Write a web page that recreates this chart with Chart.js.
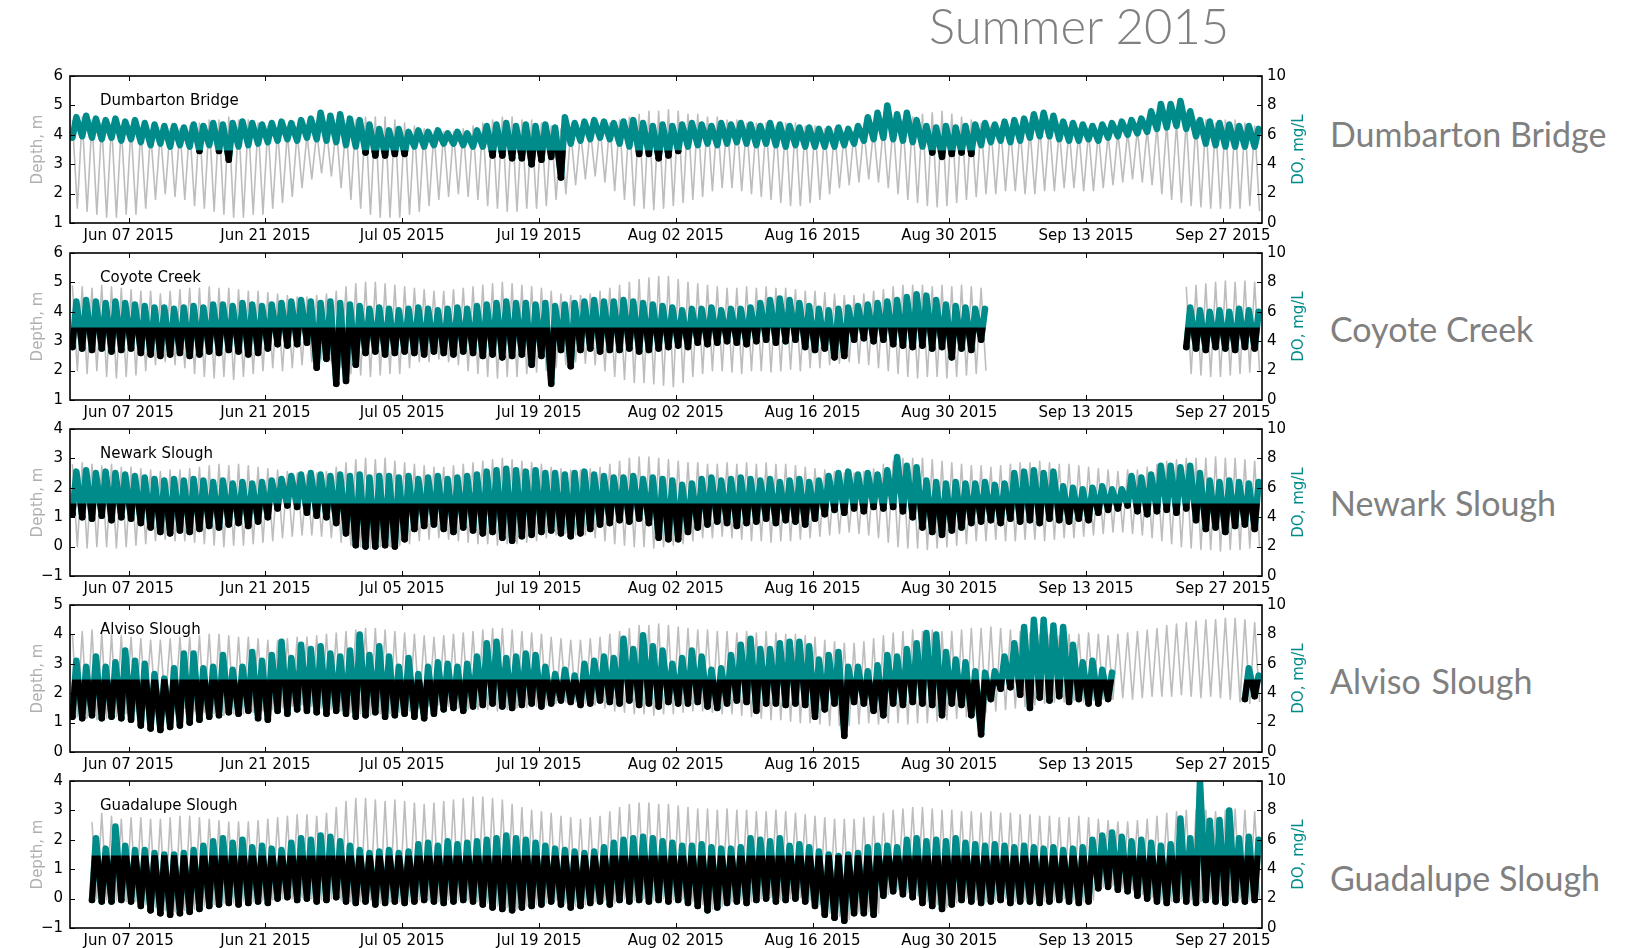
<!DOCTYPE html>
<html>
<head>
<meta charset="utf-8">
<script src="https://cdn.jsdelivr.net/npm/chart.js@4"></script>
<style>
  body { margin: 0; background: #fff; width: 1626px; height: 948px; overflow: hidden; position: relative; }
  canvas { position: absolute; left: 0; }
  .big { position: absolute; font-family: Lato, "Open Sans", sans-serif; color: #808080; white-space: nowrap; line-height: 1; }
</style>
</head>
<body>
<div class="big" style="left:929px; top:1px; font-size:49px; font-weight:300;">Summer 2015</div>
<div class="big" style="left:1330px; top:117px; font-size:34px;">Dumbarton Bridge</div>
<div class="big" style="left:1330px; top:312px; font-size:34px;">Coyote Creek</div>
<div class="big" style="left:1330px; top:486px; font-size:34px;">Newark Slough</div>
<div class="big" style="left:1330px; top:664px; font-size:34px; word-spacing:2px;">Alviso Slough</div>
<div class="big" style="left:1330px; top:861px; font-size:34px;">Guadalupe Slough</div>

<canvas id="p0" width="1330" height="190" style="top:66px"></canvas>
<canvas id="p1" width="1330" height="190" style="top:243px"></canvas>
<canvas id="p2" width="1330" height="190" style="top:419px"></canvas>
<canvas id="p3" width="1330" height="190" style="top:595px"></canvas>
<canvas id="p4" width="1330" height="190" style="top:771px"></canvas>

<script>
// x axis: days since Jun 01 2015 (day 0) up to Oct 01 (day 122)
const xTickDays = [6, 20, 34, 48, 62, 76, 90, 104, 118];
const xTickLabels = ['Jun 07 2015', 'Jun 21 2015', 'Jul 05 2015', 'Jul 19 2015', 'Aug 02 2015',
  'Aug 16 2015', 'Aug 30 2015', 'Sep 13 2015', 'Sep 27 2015'];

const siteNames = ['Dumbarton Bridge', 'Coyote Creek', 'Newark Slough', 'Alviso Slough', 'Guadalupe Slough'];
const depthMin = [1, 1, -1, 0, -1];
const depthMax = [6, 6, 4, 5, 4];
const doMin = 0, doMax = 10, doLimit = 5;

// daily higher high / lower low depth (m) and daily DO max / min (mg/L)
// one value per day, rows start Jun 01, Jun 15, Jun 29, Jul 13, Jul 27, Aug 10, Aug 24, Sep 07, Sep 21
const dbDepthHi = [
  4.5, 4.6, 4.5, 4.4, 4.4, 4.3, 4.3, 4.2, 4.1, 4.1, 4.2, 4.2, 4.3, 4.4,
  4.5, 4.5, 4.6, 4.5, 4.5, 4.4, 4.3, 4.2, 4.1, 4.1, 4.0, 4.1, 4.2, 4.3,
  4.4, 4.5, 4.6, 4.6, 4.6, 4.5, 4.4, 4.3, 4.2, 4.1, 4.1, 4.1, 4.2, 4.3,
  4.4, 4.5, 4.6, 4.6, 4.5, 4.5, 4.4, 4.3, 4.2, 4.1, 4.1, 4.2, 4.3, 4.4,
  4.5, 4.6, 4.7, 4.8, 4.8, 4.85, 4.8, 4.7, 4.7, 4.6, 4.6, 4.5, 4.5, 4.4,
  4.4, 4.4, 4.3, 4.4, 4.4, 4.3, 4.3, 4.2, 4.2, 4.1, 4.1, 4.2, 4.2, 4.3,
  4.4, 4.5, 4.6, 4.7, 4.75, 4.8, 4.7, 4.6, 4.5, 4.4, 4.3, 4.3, 4.2, 4.2,
  4.2, 4.3, 4.3, 4.2, 4.2, 4.1, 4.1, 4.1, 4.0, 4.1, 4.1, 4.2, 4.2, 4.3,
  4.4, 4.4, 4.5, 4.5, 4.5, 4.4, 4.5, 4.5, 4.4, 4.3
];
const dbDepthLo = [
  1.5, 1.4, 1.3, 1.2, 1.2, 1.3, 1.3, 1.5, 1.8, 2.0, 1.9, 1.8, 1.6, 1.5,
  1.4, 1.3, 1.2, 1.2, 1.3, 1.3, 1.5, 1.7, 1.9, 2.2, 2.5, 2.7, 2.6, 2.2,
  1.8, 1.5, 1.3, 1.2, 1.2, 1.2, 1.3, 1.4, 1.6, 1.8, 1.9, 2.0, 1.9, 1.8,
  1.6, 1.5, 1.4, 1.4, 1.5, 1.5, 1.6, 1.8, 2.0, 2.3, 2.5, 2.6, 2.4, 2.1,
  1.8, 1.6, 1.5, 1.45, 1.5, 1.6, 1.7, 1.8, 1.9, 2.1, 2.2, 2.2, 2.1, 2.0,
  1.9, 1.8, 1.7, 1.6, 1.6, 1.7, 1.8, 2.0, 2.2, 2.3, 2.4, 2.5, 2.4, 2.2,
  2.0, 1.8, 1.7, 1.6, 1.55, 1.6, 1.7, 1.8, 1.9, 2.0, 2.0, 2.1, 2.1, 2.0,
  2.0, 2.1, 2.1, 2.2, 2.2, 2.1, 2.1, 2.2, 2.3, 2.4, 2.5, 2.4, 2.3, 2.0,
  1.8, 1.7, 1.6, 1.55, 1.5, 1.5, 1.5, 1.5, 1.6, 1.4
];
const dbDoHi = [
  7.2, 7.3, 7.1, 7.0, 7.1, 6.9, 7.0, 6.8, 6.7, 6.6, 6.6, 6.5, 6.7, 6.6,
  6.8, 6.7, 6.8, 6.9, 6.8, 6.7, 6.8, 6.9, 6.8, 7.0, 7.1, 7.5, 7.3, 7.4,
  7.1, 7.0, 6.7, 6.4, 6.3, 6.4, 6.2, 6.3, 6.2, 6.3, 6.1, 6.2, 6.1, 6.3,
  6.6, 6.7, 6.8, 6.6, 6.7, 6.6, 6.7, 6.5, 7.2, 6.8, 6.9, 7.0, 6.9, 6.8,
  6.9, 7.0, 6.8, 6.6, 6.7, 6.6, 6.7, 6.8, 6.7, 6.6, 6.8, 6.7, 6.8, 6.7,
  6.6, 6.8, 6.7, 6.6, 6.5, 6.5, 6.4, 6.4, 6.5, 6.4, 6.6, 7.2, 7.5, 8.0,
  7.4, 7.5, 7.0, 6.6, 6.5, 6.6, 6.5, 6.6, 6.7, 6.8, 6.7, 6.9, 7.0, 7.1,
  7.4, 7.5, 7.3, 6.9, 6.8, 6.7, 6.6, 6.7, 6.8, 6.9, 7.0, 7.1, 7.6, 8.1,
  8.1, 8.3, 7.6, 7.0, 6.9, 6.8, 6.7, 6.6, 6.6, 6.4
];
const dbDoLo = [
  5.8, 5.9, 5.8, 5.7, 5.8, 5.6, 5.7, 5.5, 5.3, 5.4, 5.2, 5.3, 5.2, 4.9,
  5.3, 4.9, 4.3, 5.2, 5.3, 5.4, 5.5, 5.6, 5.7, 5.6, 5.8, 5.7, 5.6, 5.5,
  5.3, 5.2, 4.8, 4.6, 4.6, 4.7, 4.7, 5.2, 5.2, 5.3, 5.4, 5.4, 5.3, 5.2,
  5.2, 4.6, 4.6, 4.4, 4.4, 4.0, 4.3, 4.5, 3.1, 5.4, 5.6, 5.7, 5.8, 5.7,
  5.4, 5.2, 4.7, 4.7, 4.4, 4.6, 4.9, 5.2, 5.3, 5.4, 5.3, 5.4, 5.5, 5.4,
  5.3, 5.4, 5.3, 5.2, 5.3, 5.2, 5.2, 5.2, 5.2, 5.3, 5.4, 5.6, 5.7, 5.8,
  5.7, 5.6, 5.5, 5.2, 4.8, 4.5, 4.7, 4.8, 4.7, 5.3, 5.5, 5.6, 5.5, 5.6,
  5.8, 5.9, 5.9, 5.7, 5.6, 5.6, 5.7, 5.6, 5.8, 5.9, 6.0, 6.1, 6.2, 6.4,
  6.5, 6.6, 6.4, 5.9, 5.4, 5.3, 5.2, 5.2, 5.2, 5.2
];

const ccDepthHi = [
  4.9, 4.85, 4.8, 4.9, 4.85, 4.8, 4.75, 4.7, 4.7, 4.6, 4.7, 4.75, 4.8, 4.8,
  4.85, 4.8, 4.8, 4.75, 4.7, 4.7, 4.65, 4.6, 4.55, 4.5, 4.5, 4.55, 4.6, 4.7,
  4.85, 4.95, 5.0, 5.0, 4.95, 4.9, 4.85, 4.8, 4.75, 4.7, 4.7, 4.75, 4.8, 4.85,
  4.9, 4.95, 5.0, 4.95, 4.9, 4.85, 4.8, 4.7, 4.6, 4.55, 4.55, 4.6, 4.7, 4.8,
  4.9, 5.0, 5.1, 5.15, 5.2, 5.2, 5.1, 5.0, 4.95, 4.9, 4.85, 4.8, 4.8, 4.85,
  4.8, 4.85, 4.8, 4.8, 4.75, 4.7, 4.7, 4.65, 4.6, 4.55, 4.55, 4.6, 4.7, 4.75,
  4.85, 4.9, 4.9, 4.9, 4.85, 4.9, 4.85, 4.9, 4.85, 4.8, null, null, null, null,
  null, null, null, null, null, null, null, null, null, null, null, null, null, null,
  null, null, 4.85, 4.9, 4.95, 5.0, 5.05, 5.0, 5.05, 5.0
];
const ccDepthLo = [
  2.0, 1.9, 2.0, 1.8, 1.75, 1.8, 1.85, 2.0, 2.2, 2.3, 2.2, 2.1, 1.9, 1.8,
  1.75, 1.8, 1.7, 1.8, 1.9, 2.0, 2.1, 2.0, 2.1, 2.2, 2.3, 2.4, 2.3, 2.1,
  1.9, 1.85, 1.8, 1.85, 1.9, 1.9, 2.1, 2.3, 2.3, 2.4, 2.3, 2.2, 2.0, 1.9,
  1.8, 1.75, 1.8, 1.8, 1.9, 1.95, 2.0, 2.1, 2.2, 2.3, 2.25, 2.2, 2.0, 1.8,
  1.7, 1.6, 1.6, 1.55, 1.5, 1.45, 1.6, 1.8, 1.9, 2.0, 2.0, 1.95, 1.9, 2.0,
  2.0, 1.95, 2.0, 2.05, 2.0, 2.1, 2.1, 2.2, 2.25, 2.3, 2.25, 2.2, 2.1, 2.0,
  1.9, 1.8, 1.75, 1.8, 1.8, 1.75, 1.8, 1.85, 1.9, 2.0, null, null, null, null,
  null, null, null, null, null, null, null, null, null, null, null, null, null, null,
  null, null, 1.9, 1.85, 1.8, 1.8, 1.85, 1.9, 1.95, 2.0
];
const ccDoHi = [
  6.7, 6.8, 6.7, 6.6, 6.7, 6.6, 6.5, 6.4, 6.3, 6.3, 6.2, 6.3, 6.4, 6.3,
  6.5, 6.5, 6.4, 6.6, 6.5, 6.4, 6.5, 6.6, 6.7, 6.8, 6.7, 6.6, 6.7, 6.6,
  6.5, 6.4, 6.2, 6.3, 6.2, 6.1, 6.2, 6.3, 6.2, 6.1, 6.2, 6.3, 6.2, 6.4,
  6.5, 6.6, 6.7, 6.6, 6.6, 6.5, 6.6, 6.4, 6.5, 6.6, 6.7, 6.8, 6.7, 6.7,
  6.8, 6.7, 6.6, 6.5, 6.4, 6.3, 6.1, 6.2, 6.2, 6.3, 6.1, 6.2, 6.2, 6.3,
  6.6, 6.8, 6.9, 6.8, 6.6, 6.4, 6.2, 6.1, 6.2, 6.3, 6.4, 6.5, 6.6, 6.7,
  6.8, 7.0, 7.2, 7.1, 6.8, 6.5, 6.4, 6.3, 6.2, 6.2, null, null, null, null,
  null, null, null, null, null, null, null, null, null, null, null, null, null, null,
  null, null, 6.3, 6.1, 6.0, 6.1, 6.0, 6.2, 6.1, 6.0
];
const ccDoLo = [
  3.6, 3.5, 3.4, 3.5, 3.3, 3.4, 3.5, 3.2, 3.1, 3.0, 3.1, 3.2, 3.0, 3.1,
  3.3, 3.2, 3.4, 3.3, 3.1, 3.2, 3.5, 3.8, 3.7, 3.8, 3.9, 2.2, 2.8, 1.1,
  1.3, 2.4, 3.2, 3.3, 3.1, 3.2, 3.3, 3.2, 3.1, 3.3, 3.2, 3.1, 3.3, 3.2,
  3.0, 3.1, 2.9, 3.0, 3.1, 2.4, 3.0, 1.1, 3.4, 2.3, 3.4, 3.5, 3.3, 3.4,
  3.4, 3.5, 3.3, 3.4, 3.5, 3.6, 3.7, 3.6, 3.9, 3.8, 3.9, 4.0, 3.9, 3.8,
  4.0, 4.1, 3.9, 4.0, 4.1, 3.6, 3.4, 3.5, 2.9, 3.0, 4.1, 4.2, 4.0, 4.1,
  3.8, 3.7, 3.6, 3.7, 3.5, 3.6, 2.9, 3.5, 3.4, 4.1, null, null, null, null,
  null, null, null, null, null, null, null, null, null, null, null, null, null, null,
  null, null, 3.6, 3.5, 3.4, 3.6, 3.5, 3.4, 3.6, 3.5
];

const nsDepthHi = [
  2.8, 2.85, 2.8, 2.75, 2.8, 2.7, 2.7, 2.65, 2.6, 2.55, 2.6, 2.6, 2.65, 2.7,
  2.75, 2.8, 2.75, 2.8, 2.75, 2.7, 2.65, 2.6, 2.55, 2.5, 2.45, 2.5, 2.55, 2.7,
  2.85, 2.95, 3.0, 2.95, 3.0, 2.9, 2.85, 2.8, 2.75, 2.7, 2.7, 2.75, 2.8, 2.85,
  2.9, 2.95, 3.0, 2.95, 2.9, 2.85, 2.8, 2.7, 2.65, 2.6, 2.6, 2.65, 2.7, 2.8,
  2.9, 3.0, 3.05, 3.05, 3.0, 2.95, 2.9, 2.85, 2.85, 2.8, 2.8, 2.85, 2.8, 2.85,
  2.8, 2.85, 2.8, 2.8, 2.75, 2.7, 2.65, 2.6, 2.55, 2.5, 2.5, 2.55, 2.65, 2.8,
  2.9, 3.0, 3.0, 3.0, 2.95, 2.9, 2.85, 2.8, 2.75, 2.75, 2.7, 2.75, 2.8, 2.85,
  2.85, 2.9, 2.85, 2.8, 2.8, 2.75, 2.7, 2.65, 2.6, 2.55, 2.6, 2.6, 2.7, 2.8,
  2.9, 2.95, 3.0, 3.0, 3.0, 3.05, 3.0, 3.0, 2.95, 2.9
];
const nsDepthLo = [
  0.0, -0.05, 0.0, 0.0, -0.05, 0.0, 0.05, 0.1, 0.2, 0.25, 0.2, 0.2, 0.15, 0.1,
  0.05, 0.0, 0.05, 0.05, 0.1, 0.15, 0.2, 0.3, 0.35, 0.4, 0.4, 0.35, 0.3, 0.15,
  0.05, 0.0, -0.05, 0.0, 0.0, 0.05, 0.1, 0.2, 0.25, 0.3, 0.25, 0.2, 0.15, 0.1,
  0.1, 0.05, 0.1, 0.1, 0.15, 0.2, 0.3, 0.4, 0.45, 0.4, 0.4, 0.3, 0.2, 0.1,
  0.05, 0.0, 0.0, -0.05, 0.0, 0.05, 0.1, 0.2, 0.3, 0.3, 0.35, 0.3, 0.25, 0.2,
  0.2, 0.15, 0.2, 0.2, 0.25, 0.3, 0.35, 0.4, 0.45, 0.5, 0.45, 0.4, 0.3, 0.15,
  0.0, -0.05, -0.05, -0.1, -0.05, 0.0, 0.05, 0.1, 0.2, 0.2, 0.25, 0.2, 0.2, 0.25,
  0.25, 0.2, 0.25, 0.3, 0.3, 0.35, 0.4, 0.45, 0.5, 0.5, 0.45, 0.4, 0.3, 0.2,
  0.1, 0.0, -0.05, -0.1, -0.1, -0.15, -0.1, -0.1, -0.05, 0.0
];
const nsDoHi = [
  7.1, 7.2, 7.0, 7.1, 7.0, 6.9, 6.8, 6.7, 6.6, 6.5, 6.6, 6.5, 6.6, 6.5,
  6.4, 6.5, 6.3, 6.4, 6.3, 6.4, 6.5, 6.6, 6.8, 6.9, 7.0, 6.9, 6.8, 6.9,
  6.8, 6.9, 6.7, 6.8, 6.8, 6.7, 6.8, 6.6, 6.7, 6.8, 6.6, 6.7, 6.8, 6.9,
  7.1, 7.2, 7.3, 7.2, 7.1, 7.2, 7.0, 7.0, 6.9, 7.0, 7.1, 6.9, 6.8, 6.7,
  6.7, 6.8, 6.6, 6.7, 6.6, 6.5, 6.2, 6.3, 6.6, 6.7, 6.5, 6.6, 6.7, 6.6,
  6.5, 6.6, 6.4, 6.5, 6.6, 6.4, 6.5, 6.8, 7.0, 7.1, 6.9, 7.0, 6.9, 7.2,
  8.1, 7.5, 7.4, 6.5, 6.4, 6.3, 6.4, 6.3, 6.3, 6.4, 6.2, 6.3, 7.0, 7.1,
  7.2, 7.0, 7.1, 6.1, 6.0, 5.9, 6.0, 6.1, 5.9, 5.9, 6.8, 6.7, 6.9, 7.5,
  7.5, 7.4, 7.5, 7.0, 6.5, 6.4, 6.5, 6.4, 6.3, 6.4
];
const nsDoLo = [
  4.2, 4.0, 3.9, 4.1, 3.8, 4.0, 3.9, 3.6, 3.3, 3.0, 2.9, 3.1, 3.0, 3.2,
  3.4, 3.3, 3.5, 3.6, 3.4, 3.7, 4.0, 4.6, 4.8, 4.7, 4.3, 4.1, 4.0, 3.6,
  2.9, 2.1, 2.0, 2.0, 2.1, 2.0, 2.5, 3.2, 3.4, 3.5, 3.2, 3.0, 3.3, 3.1,
  2.9, 3.0, 2.6, 2.4, 2.7, 2.8, 3.0, 3.1, 2.9, 2.7, 2.9, 3.2, 3.5, 3.6,
  3.8, 3.7, 3.9, 3.6, 2.6, 2.5, 2.5, 3.0, 3.3, 3.5, 3.7, 3.6, 3.4, 3.6,
  3.7, 3.9, 3.6, 3.8, 3.7, 3.5, 3.9, 4.2, 4.5, 4.3, 4.6, 4.4, 4.7, 4.6,
  4.7, 4.4, 4.0, 3.3, 3.0, 2.8, 3.1, 3.3, 3.6, 3.7, 3.8, 3.6, 3.9, 3.7,
  3.8, 3.6, 3.9, 3.8, 3.7, 3.9, 3.8, 4.3, 4.5, 4.6, 4.8, 4.4, 4.2, 4.4,
  4.5, 4.3, 4.6, 3.8, 3.2, 3.3, 3.0, 3.4, 3.5, 3.2
];

const asDepthHi = [
  4.0, 4.1, 4.15, 4.05, 4.0, 3.95, 3.9, 3.85, 3.8, 3.8, 3.85, 3.9, 3.9, 3.95,
  4.0, 4.0, 3.95, 3.9, 3.9, 3.85, 3.8, 3.8, 3.85, 3.9, 3.9, 3.95, 4.0, 4.05,
  4.1, 4.15, 4.2, 4.2, 4.15, 4.1, 4.05, 4.0, 3.95, 3.9, 3.95, 4.0, 4.05, 4.1,
  4.15, 4.2, 4.2, 4.15, 4.1, 4.05, 4.0, 3.9, 3.85, 3.8, 3.8, 3.85, 3.9, 4.0,
  4.1, 4.2, 4.3, 4.3, 4.35, 4.3, 4.25, 4.2, 4.15, 4.15, 4.1, 4.1, 4.05, 4.1,
  4.05, 4.1, 4.05, 4.0, 4.0, 3.95, 3.9, 3.8, 3.75, 3.7, 3.7, 3.75, 3.85, 3.95,
  4.05, 4.1, 4.15, 4.1, 4.15, 4.1, 4.1, 4.15, 4.2, 4.2, 4.25, 4.2, 4.15, 4.1,
  4.05, 4.0, 4.0, 3.95, 4.0, 4.0, 4.05, 4.0, 3.95, 4.0, 4.05, 4.1, 4.15, 4.2,
  4.3, 4.35, 4.4, 4.45, 4.5, 4.5, 4.55, 4.55, 4.5, 4.4
];
const asDepthLo = [
  1.2, 1.15, 1.1, 1.15, 1.2, 1.3, 1.4, 1.5, 1.55, 1.6, 1.55, 1.5, 1.4, 1.35,
  1.3, 1.25, 1.3, 1.3, 1.35, 1.4, 1.45, 1.5, 1.55, 1.6, 1.55, 1.5, 1.45, 1.4,
  1.35, 1.3, 1.25, 1.3, 1.3, 1.35, 1.4, 1.5, 1.55, 1.6, 1.55, 1.5, 1.45, 1.45,
  1.45, 1.4, 1.45, 1.5, 1.5, 1.55, 1.6, 1.65, 1.7, 1.7, 1.65, 1.6, 1.5, 1.4,
  1.35, 1.3, 1.3, 1.25, 1.3, 1.3, 1.35, 1.4, 1.4, 1.35, 1.3, 1.3, 1.25, 1.2,
  1.15, 1.1, 1.1, 1.05, 1.0, 1.0, 0.95, 0.9, 0.9, 0.9, 0.95, 1.0, 0.95, 1.0,
  1.0, 0.95, 1.0, 1.0, 1.05, 1.1, 1.15, 1.2, 1.3, 1.35, 1.4, 1.45, 1.5, 1.55,
  1.6, 1.65, 1.7, 1.7, 1.75, 1.7, 1.75, 1.8, 1.8, 1.85, 1.8, 1.85, 1.9, 1.9,
  1.9, 1.95, 1.9, 1.85, 1.9, 1.85, 1.8, 1.7, 1.65, 1.7
];
const asDoHi = [
  6.2, 5.8, 6.5, 5.8, 6.1, 6.9, 6.2, 6.0, 5.3, 5.0, 5.7, 6.7, 6.7, 5.7,
  5.8, 6.6, 5.6, 5.8, 6.8, 6.2, 6.6, 7.5, 6.4, 7.3, 7.0, 7.2, 6.7, 6.5,
  6.9, 8.0, 6.6, 7.2, 6.5, 5.8, 6.4, 5.3, 5.8, 6.1, 6.0, 5.8, 6.0, 6.5,
  7.4, 7.5, 6.4, 6.5, 6.7, 6.6, 5.8, 5.3, 5.6, 5.2, 6.0, 6.2, 6.5, 6.4,
  7.7, 7.0, 7.95, 7.2, 6.9, 6.0, 6.4, 6.9, 6.5, 5.6, 5.7, 6.6, 7.3, 7.7,
  7.0, 7.0, 7.4, 7.5, 7.5, 7.2, 6.3, 6.6, 6.8, 5.8, 5.8, 5.5, 5.9, 6.6,
  6.5, 7.0, 7.4, 8.1, 8.0, 6.8, 6.3, 6.1, 5.5, 5.4, 5.5, 6.5, 7.4, 8.5,
  9.0, 9.0, 8.6, 8.5, 7.3, 6.1, 6.2, 5.6, 5.4, null, null, null, null, null,
  null, null, null, null, null, null, null, null, 5.7, 5.2
];
const asDoLo = [
  2.4, 2.3, 2.5, 2.3, 2.4, 2.3, 2.2, 1.8, 1.6, 1.5, 1.7, 1.8, 2.0, 2.2,
  2.4, 2.5, 2.7, 2.6, 2.8, 2.3, 2.2, 2.8, 2.6, 2.9, 2.8, 2.7, 2.6, 2.8,
  2.6, 2.4, 2.5, 2.7, 2.4, 2.5, 2.6, 2.4, 2.3, 2.6, 2.9, 3.0, 2.8, 3.1,
  3.2, 3.3, 3.1, 3.0, 3.2, 3.3, 3.1, 3.3, 3.5, 3.4, 3.2, 3.3, 3.5, 3.4,
  3.3, 3.5, 3.2, 3.3, 3.1, 3.4, 3.3, 3.3, 3.4, 3.1, 3.0, 3.3, 3.5, 3.4,
  2.8, 3.3, 3.3, 3.2, 3.3, 3.2, 2.4, 2.9, 3.3, 1.1, 3.4, 3.3, 2.8, 2.5,
  3.3, 3.2, 3.4, 3.3, 3.2, 2.5, 3.3, 3.2, 2.5, 1.2, 3.6, 4.3, 4.4, 3.9,
  3.0, 3.7, 3.5, 3.8, 3.4, 3.6, 3.3, 3.3, 3.6, null, null, null, null, null,
  null, null, null, null, null, null, null, null, 3.6, 3.8
];

const gsDepthHi = [
  null, null, 2.6, 2.9, 2.8, 2.7, 2.75, 2.75, 2.7, 2.7, 2.75, 2.8, 2.8, 2.75,
  2.7, 2.65, 2.6, 2.6, 2.6, 2.65, 2.7, 2.75, 2.8, 2.85, 2.85, 2.8, 2.9, 3.1,
  3.3, 3.4, 3.4, 3.35, 3.3, 3.35, 3.3, 3.25, 3.2, 3.25, 3.3, 3.35, 3.4, 3.45,
  3.45, 3.4, 3.35, 3.2, 3.1, 3.0, 2.95, 2.9, 2.8, 2.75, 2.7, 2.75, 2.8, 2.95,
  3.1, 3.2, 3.25, 3.25, 3.2, 3.2, 3.15, 3.1, 3.05, 3.05, 3.0, 3.05, 3.0, 3.0,
  2.95, 2.95, 3.0, 2.95, 2.9, 2.85, 2.8, 2.75, 2.7, 2.7, 2.7, 2.75, 2.8, 2.9,
  3.0, 3.05, 3.1, 3.1, 3.05, 3.0, 3.0, 2.95, 2.95, 2.9, 2.95, 2.9, 2.9, 2.85,
  2.85, 2.8, 2.8, 2.75, 2.75, 2.8, 2.75, 2.7, 2.65, 2.6, 2.6, 2.65, 2.7, 2.8,
  2.9, 2.95, 3.0, 3.0, 3.0, 2.95, 3.0, 3.05, 3.0, 2.95
];
const gsDepthLo = [
  null, null, 0.0, -0.05, -0.05, -0.1, -0.1, -0.2, -0.3, -0.4, -0.45, -0.4, -0.35, -0.25,
  -0.2, -0.15, -0.15, -0.1, -0.1, -0.05, -0.05, 0.0, 0.0, 0.05, 0.0, -0.05, 0.0, -0.05,
  -0.1, -0.1, -0.05, -0.15, -0.1, -0.1, -0.1, -0.05, -0.05, -0.1, -0.05, -0.05, -0.05, -0.1,
  -0.15, -0.25, -0.3, -0.35, -0.25, -0.2, -0.15, -0.05, -0.15, -0.25, -0.2, -0.1, -0.05, -0.15,
  0.0, -0.05, 0.0, -0.05, 0.0, -0.05, 0.0, -0.1, -0.2, -0.35, -0.25, -0.1, -0.05, -0.1,
  0.0, 0.05, -0.05, 0.0, 0.05, -0.05, -0.2, -0.5, -0.6, -0.7, -0.45, -0.45, -0.5, 0.15,
  0.3, 0.2, 0.1, -0.1, -0.2, -0.3, -0.15, 0.0, -0.05, -0.1, -0.05, 0.0, -0.1, -0.05,
  -0.05, -0.1, -0.05, 0.0, -0.05, -0.1, -0.05, 0.4, 0.45, 0.35, 0.3, 0.15, 0.05, -0.05,
  -0.1, 0.0, -0.05, -0.1, 0.0, -0.05, -0.1, 0.0, -0.05, 0.0
];
const gsDoHi = [
  null, null, 6.1, 5.4, 6.9, 5.6, 5.3, 5.3, 5.1, 5.0, 5.0, 5.1, 5.3, 5.6,
  5.9, 6.1, 5.8, 6.0, 5.5, 5.6, 5.4, 5.3, 5.8, 6.1, 6.0, 6.3, 6.2, 5.9,
  5.6, 5.3, 5.1, 5.2, 5.3, 5.1, 5.2, 5.7, 5.8, 5.6, 5.9, 5.7, 5.8, 5.9,
  6.0, 6.1, 6.3, 6.1, 6.0, 5.8, 5.6, 5.4, 5.3, 5.2, 5.1, 5.2, 5.5, 5.8,
  6.0, 6.1, 6.2, 6.1, 5.9, 5.8, 5.6, 5.6, 5.7, 5.5, 5.4, 5.4, 5.5, 6.1,
  6.0, 5.9, 6.1, 5.6, 5.7, 5.5, 5.2, 5.0, 4.9, 5.0, 5.1, 5.5, 5.6, 5.6,
  5.5, 6.0, 6.1, 5.9, 6.0, 5.9, 6.1, 5.8, 5.7, 5.6, 5.7, 5.6, 5.5, 5.6,
  5.5, 5.4, 5.5, 5.3, 5.4, 5.5, 6.0, 6.3, 6.5, 6.2, 5.9, 6.0, 5.8, 5.6,
  5.7, 7.45, 6.1, 10.0, 7.3, 7.35, 8.0, 6.1, 6.2, 6.0
];
const gsDoLo = [
  null, null, 1.9, 1.8, 1.8, 1.9, 1.8, 1.5, 1.2, 1.0, 0.9, 1.0, 1.1, 1.3,
  1.5, 1.6, 1.7, 1.6, 1.7, 1.8, 1.7, 2.0, 2.1, 1.9, 2.0, 1.8, 1.9, 2.1,
  1.8, 1.7, 1.8, 1.6, 1.7, 1.8, 1.7, 1.8, 1.9, 1.8, 1.7, 1.8, 1.9, 1.8,
  1.6, 1.4, 1.3, 1.2, 1.4, 1.5, 1.6, 1.8, 1.6, 1.4, 1.5, 1.7, 1.8, 1.6,
  1.9, 1.8, 1.9, 1.8, 1.9, 1.8, 1.9, 1.7, 1.5, 1.2, 1.4, 1.7, 1.8, 1.7,
  1.9, 2.0, 1.8, 1.9, 2.0, 1.8, 1.5, 0.9, 0.7, 0.5, 1.0, 1.0, 0.9, 2.2,
  2.5, 2.3, 2.1, 1.7, 1.5, 1.3, 1.6, 1.9, 1.8, 1.7, 1.8, 1.9, 1.7, 1.8,
  1.8, 1.7, 1.8, 1.9, 1.8, 1.7, 1.8, 2.7, 2.8, 2.6, 2.5, 2.2, 2.0, 1.8,
  1.7, 1.9, 1.8, 1.7, 1.9, 1.8, 1.7, 1.9, 1.8, 1.9
];

const depthHi = [dbDepthHi, ccDepthHi, nsDepthHi, asDepthHi, gsDepthHi];
const depthLo = [dbDepthLo, ccDepthLo, nsDepthLo, asDepthLo, gsDepthLo];
const doHi = [dbDoHi, ccDoHi, nsDoHi, asDoHi, gsDoHi];
const doLo = [dbDoLo, ccDoLo, nsDoLo, asDoLo, gsDoLo];

// high tide early in the day, DO minimum in the morning and maximum in the afternoon
const tide = (hi, lo, hiAt, loAt) => {
  const pts = [];
  hi.forEach((h, d) => {
    const a = { x: d + hiAt, y: h };
    const b = { x: d + loAt, y: lo[d] };
    if (hiAt < loAt) pts.push(a, b); else pts.push(b, a);
  });
  return pts;
};

const TEAL = '#008b8b';
const minus = v => String(v).replace('-', '\u2212');

// only keep the part of the black DO trace that is below the 5 mg/L line
const clipLow = {
  id: 'clipLow',
  beforeDatasetDraw(chart, args) {
    const ds = chart.data.datasets[args.index];
    if (ds.clipBelow === undefined) return;
    const { ctx, chartArea: a } = chart;
    const top = chart.scales.y2.getPixelForValue(ds.clipBelow) + 1;
    ctx.save();
    ctx.beginPath();
    ctx.rect(a.left, top, a.right - a.left, a.bottom - top);
    ctx.clip();
  },
  afterDatasetDraw(chart, args) {
    if (chart.data.datasets[args.index].clipBelow === undefined) return;
    chart.ctx.restore();
  }
};

// matplotlib-style frame, inward ticks, site label and axis titles
const deco = {
  id: 'deco',
  afterDraw(chart, args, opts) {
    const { ctx, chartArea: a, scales } = chart;
    ctx.save();
    ctx.strokeStyle = '#000';
    ctx.lineWidth = 1;
    ctx.beginPath();
    xTickDays.forEach(v => {
      const px = Math.round(scales.x.getPixelForValue(v)) + 0.5;
      ctx.moveTo(px, a.bottom); ctx.lineTo(px, a.bottom - 5);
      ctx.moveTo(px, a.top); ctx.lineTo(px, a.top + 5);
    });
    scales.y.ticks.forEach(t => {
      const py = Math.round(scales.y.getPixelForValue(t.value)) + 0.5;
      ctx.moveTo(a.left, py); ctx.lineTo(a.left + 5, py);
    });
    scales.y2.ticks.forEach(t => {
      const py = Math.round(scales.y2.getPixelForValue(t.value)) + 0.5;
      ctx.moveTo(a.right, py); ctx.lineTo(a.right - 5, py);
    });
    ctx.stroke();
    ctx.lineWidth = 1.6;
    ctx.strokeRect(a.left, a.top, a.right - a.left, a.bottom - a.top);

    ctx.font = '15px "DejaVu Sans"';
    ctx.fillStyle = '#000';
    ctx.textBaseline = 'middle';
    ctx.textAlign = 'left';
    ctx.fillText(opts.label, a.left + 30, a.top + 25);

    const midY = (a.top + a.bottom) / 2;
    ctx.textAlign = 'center';
    ctx.translate(38, midY);
    ctx.rotate(-Math.PI / 2);
    ctx.fillStyle = '#b0b0b0';
    ctx.fillText('Depth, m', 0, 0);
    ctx.rotate(Math.PI / 2);
    ctx.translate(1299 - 38, 0);
    ctx.rotate(-Math.PI / 2);
    ctx.fillStyle = TEAL;
    ctx.fillText('DO, mg/L', 0, 0);
    ctx.restore();
  }
};

const tickFont = { family: 'DejaVu Sans', size: 15 };
const noGrid = { display: false, drawTicks: false };
const fitY = w => s => { s.width = w; s.paddingTop = 0; s.paddingBottom = 0; };

siteNames.forEach((name, i) => {
  const doPts = tide(doHi[i], doLo[i], 0.65, 0.25);
  new Chart(document.getElementById('p' + i), {
    type: 'line',
    data: {
      datasets: [
        {
          label: 'DO < 5', data: doPts, yAxisID: 'y2', clipBelow: doLimit,
          borderColor: '#000', borderWidth: 6, borderJoinStyle: 'round', borderCapStyle: 'round',
          pointRadius: 3.3, pointBackgroundColor: '#000', pointBorderWidth: 0
        },
        {
          label: 'DO', data: doPts, yAxisID: 'y2',
          borderColor: TEAL, borderWidth: 6.5, borderJoinStyle: 'round', borderCapStyle: 'round',
          pointRadius: 0
        },
        {
          label: 'Depth', data: tide(depthHi[i], depthLo[i], 0.25, 0.75), yAxisID: 'y',
          borderColor: '#bdbdbd', borderWidth: 1.6, borderJoinStyle: 'round',
          pointRadius: 0
        }
      ]
    },
    options: {
      responsive: false,
      animation: false,
      events: [],
      layout: { padding: { top: 10, left: 0, right: 0, bottom: 0 } },
      plugins: { legend: { display: false }, tooltip: { enabled: false }, deco: { label: name } },
      scales: {
        x: {
          type: 'linear', min: 0, max: 122,
          grid: noGrid, border: { display: false },
          afterBuildTicks: s => { s.ticks = xTickDays.map(v => ({ value: v })); },
          afterFit: s => { s.height = 33; s.paddingLeft = 0; s.paddingRight = 0; },
          ticks: {
            font: tickFont, color: '#000', padding: 4, maxRotation: 0, autoSkip: false,
            callback: v => xTickLabels[xTickDays.indexOf(v)]
          }
        },
        y: {
          position: 'left', min: depthMin[i], max: depthMax[i],
          grid: noGrid, border: { display: false },
          afterFit: fitY(70),
          ticks: { stepSize: 1, font: tickFont, color: '#000', padding: 7, callback: minus }
        },
        y2: {
          position: 'right', min: doMin, max: doMax,
          grid: noGrid, border: { display: false },
          afterFit: fitY(68),
          ticks: { stepSize: 2, font: tickFont, color: '#000', padding: 5 }
        }
      }
    },
    plugins: [clipLow, deco]
  });
});
</script>
</body>
</html>
